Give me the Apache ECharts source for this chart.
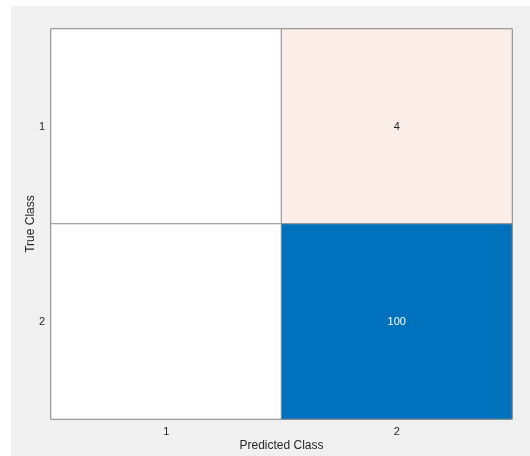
<!DOCTYPE html>
<html>
<head>
<meta charset="utf-8">
<script src="https://cdn.jsdelivr.net/npm/echarts@6/dist/echarts.min.js"></script>
<style>
  html, body { margin: 0; padding: 0; background: #ffffff; }
  #frame { position: absolute; left: 11px; top: 6px; width: 519px; height: 450px; background: #f0f0f0; }
  #chart { position: absolute; left: -11px; top: -6px; width: 530px; height: 456px; }
</style>
</head>
<body>
<div id="frame"><div id="chart"></div></div>
<script>
// Confusion matrix: rows = true class, columns = predicted class
const predictedClasses = ['1', '2'];
const trueClasses = ['1', '2'];
const counts = [
  [0, 4],    // true class 1
  [0, 100]   // true class 2
];

const diagColor = [0, 114, 189];   // correct predictions
const offColor = [217, 83, 25];    // misclassifications

function mix(rgb, t) {
  const c = rgb.map(v => Math.round(255 + (v - 255) * t));
  return 'rgb(' + c.join(',') + ')';
}

const maxCount = Math.max(...counts.flat());
const cells = [];
counts.forEach((row, i) => {
  row.forEach((v, j) => {
    const t = v > 0 ? Math.sqrt(v / maxCount) * (i === j ? 1 : 0.5) : 0;
    cells.push({
      value: [j, i, v],
      itemStyle: { color: mix(i === j ? diagColor : offColor, t) },
      label: { color: (i === j && t > 0.5) ? '#ffffff' : '#262626' }
    });
  });
});

const chart = echarts.init(document.getElementById('chart'));
chart.setOption({
  backgroundColor: 'transparent',
  animation: false,
  grid: {
    left: 51, top: 29, width: 461, height: 390,
    outerBoundsMode: 'none', containLabel: false,
    show: true, borderColor: '#8c8c8c', borderWidth: 1
  },
  xAxis: {
    type: 'category',
    data: predictedClasses,
    name: 'Predicted Class',
    nameLocation: 'middle',
    nameGap: 21,
    nameMoveOverlap: false,
    nameTextStyle: { fontFamily: 'Liberation Sans', fontSize: 12, color: '#262626' },
    axisLine: { show: false },
    axisTick: { show: false },
    axisLabel: { fontFamily: 'Liberation Sans', fontSize: 11, color: '#262626', margin: 7 },
    splitLine: { show: false }
  },
  yAxis: {
    type: 'category',
    data: trueClasses,
    inverse: true,
    name: 'True Class',
    nameLocation: 'middle',
    nameGap: 14,
    nameMoveOverlap: false,
    nameTextStyle: { fontFamily: 'Liberation Sans', fontSize: 12, color: '#262626' },
    axisLine: { show: false },
    axisTick: { show: false },
    axisLabel: { fontFamily: 'Liberation Sans', fontSize: 11, color: '#262626', margin: 6 },
    splitLine: { show: false }
  },
  series: [{
    type: 'heatmap',
    data: cells,
    itemStyle: { borderColor: '#8c8c8c', borderWidth: 1 },
    label: {
      show: true,
      fontFamily: 'Liberation Sans',
      fontSize: 11,
      formatter: p => p.value[2] > 0 ? String(p.value[2]) : ''
    },
    emphasis: { disabled: true }
  }]
});
</script>
</body>
</html>
